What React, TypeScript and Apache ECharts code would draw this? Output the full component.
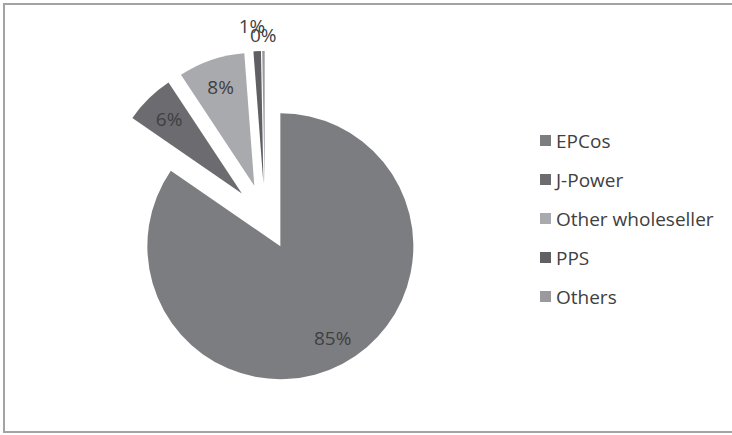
import React, { useEffect, useRef } from "react";
import * as echarts from "echarts";

const categories = ["EPCos", "J-Power", "Other wholeseller", "PPS", "Others"];
const shares = [84.6, 6.1, 8.1, 0.9, 0.3];
const colors = ["#7c7d81", "#6b6b70", "#a9aaae", "#5f5f64", "#9a9a9e"];

const FONT = '"Open Sans", "Noto Sans", sans-serif';
const CENTER = [265, 217];
const OFFSET = 33;

function pct(p: any) {
  return Math.round(p.percent) + "%";
}

export default function App() {
  const ref = useRef<HTMLDivElement>(null);
  useEffect(() => {
    if (!ref.current) return;
    const chart = echarts.init(ref.current, undefined, { renderer: "svg" });

    const baseData = categories.map((name, i) => ({
      name,
      value: shares[i],
      selected: true,
      itemStyle: { color: colors[i] },
    }));

    const labelSeries = (
      radius: number[],
      showIdx: number[],
      id: string,
      paddings: number[][] = []
    ) => ({
      type: "pie",
      id,
      silent: true,
      center: CENTER,
      radius,
      startAngle: 90,
      clockwise: true,
      selectedMode: "multiple",
      selectedOffset: OFFSET,
      avoidLabelOverlap: false,
      minShowLabelAngle: 0,
      labelLayout: { hideOverlap: false },
      emphasis: { disabled: true },
      itemStyle: { color: "rgba(255,255,255,0)", borderWidth: 0 },
      labelLine: { show: false },
      data: categories.map((name, i) => ({
        name,
        value: shares[i],
        selected: true,
        itemStyle: { color: "rgba(255,255,255,0)", borderWidth: 0 },
        label: {
          show: showIdx.includes(i),
          position: "inside",
          formatter: pct,
          color: "#404040",
          textBorderWidth: 0,
          padding: paddings[i] || [0, 0, 0, 0],
          fontFamily: FONT,
          fontSize: 19,
        },
      })),
    });

    chart.setOption({
      animation: false,
      backgroundColor: "#ffffff",
      legend: {
        orient: "vertical",
        left: 535,
        top: 126,
        icon: "rect",
        itemWidth: 11,
        itemHeight: 11,
        itemGap: 20,
        data: categories,
        selectedMode: false,
        textStyle: { fontFamily: FONT, fontSize: 19, color: "#404040" },
      },
      graphic: [
        {
          type: "rect",
          shape: { x: 4, y: 4, width: 740, height: 428 },
          style: { fill: "none", stroke: "#a3a3a3", lineWidth: 2 },
          silent: true,
        },
      ],
      series: [
        {
          type: "pie",
          id: "main",
          center: CENTER,
          radius: [0, 133],
          startAngle: 90,
          clockwise: true,
          selectedMode: "multiple",
          selectedOffset: OFFSET,
          avoidLabelOverlap: false,
          emphasis: { disabled: true },
          itemStyle: { borderWidth: 0 },
          label: { show: false },
          labelLine: { show: false },
          data: baseData,
        },
        labelSeries([69, 133], [0, 1, 2], "lab1", [[0, 0, 12, 8]]),
        labelSeries([145, 165], [3], "lab2", [[], [], [], [0, 8, 0, 0]]),
        labelSeries([136, 156], [4], "lab3"),
      ],
    });
    return () => chart.dispose();
  }, []);
  return (
    <div
      ref={ref}
      style={{ position: "absolute", left: 0, top: 0, width: 732, height: 435 }}
    />
  );
}
